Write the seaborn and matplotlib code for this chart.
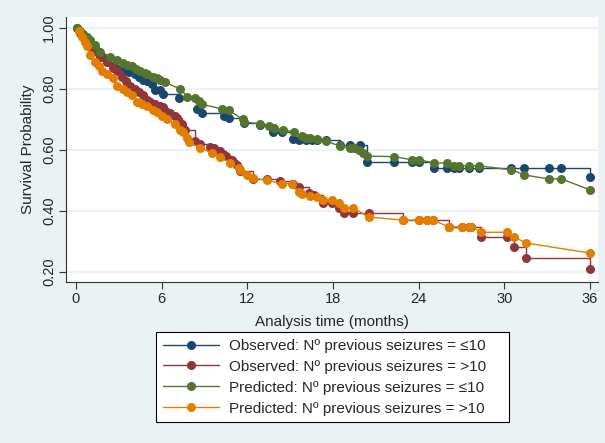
import matplotlib
matplotlib.use("Agg")
import matplotlib.pyplot as plt
import seaborn as sns
import pandas as pd
from matplotlib.lines import Line2D

# ---------------- data ----------------
obs_le10_t = [0.1, 0.3, 0.5, 0.7, 0.9, 1.1, 1.3, 1.6, 1.9, 2.2, 2.6, 2.9, 3.3, 3.7, 4.1, 4.4, 4.7,
              5.0, 5.3, 5.5, 5.9, 6.1, 7.2, 8.5, 8.8, 10.4, 10.7, 11.8, 12.9, 13.8, 14.4, 15.2,
              15.6, 16.1, 16.5, 16.9, 17.5, 18.5, 19.2, 19.9, 20.4, 22.3, 23.5, 24.0, 25.1, 26.0,
              26.5, 26.8, 27.5, 28.2, 30.5, 31.4, 33.1, 34.0, 36.0]
obs_le10_s = [1.0, 0.985, 0.975, 0.965, 0.955, 0.945, 0.935, 0.92, 0.905, 0.89, 0.875, 0.865, 0.86,
              0.855, 0.848, 0.84, 0.83, 0.825, 0.815, 0.797, 0.795, 0.785, 0.77, 0.735, 0.72, 0.71,
              0.705, 0.688, 0.683, 0.66, 0.66, 0.635, 0.633, 0.633, 0.633, 0.633, 0.633, 0.617,
              0.617, 0.617, 0.56, 0.56, 0.56, 0.56, 0.54, 0.54, 0.54, 0.54, 0.54, 0.54, 0.54, 0.54,
              0.54, 0.54, 0.51]

obs_gt10_t = [0.2, 0.5, 0.7, 0.9, 1.2, 1.5, 1.7, 2.2, 2.6, 2.9, 3.2, 3.5, 3.8, 4.1, 4.4, 4.7, 5.0,
              5.2, 5.5, 5.9, 6.1, 6.4, 6.6, 6.9, 7.1, 7.4, 7.5, 7.6, 8.3, 8.7, 9.4, 9.7, 10.1, 10.5,
              10.9, 11.3, 11.5, 12.4, 13.4, 14.3, 15.2, 15.6, 16.3, 16.7, 17.3, 17.9, 18.4, 18.8,
              19.4, 20.5, 22.9, 24.0, 24.6, 25.0, 26.1, 27.0, 27.5, 27.7, 28.4, 30.2, 30.7, 31.5,
              36.0]
obs_gt10_s = [0.99, 0.97, 0.96, 0.94, 0.93, 0.92, 0.905, 0.89, 0.87, 0.86, 0.84, 0.825, 0.81, 0.80,
              0.79, 0.78, 0.765, 0.757, 0.75, 0.745, 0.74, 0.725, 0.72, 0.71, 0.705, 0.685, 0.672,
              0.665, 0.628, 0.62, 0.61, 0.605, 0.595, 0.58, 0.567, 0.55, 0.532, 0.505, 0.505, 0.497,
              0.49, 0.478, 0.46, 0.453, 0.426, 0.426, 0.41, 0.393, 0.393, 0.393, 0.37, 0.37, 0.37,
              0.37, 0.348, 0.348, 0.348, 0.348, 0.315, 0.315, 0.282, 0.246, 0.21]

pred_le10_t = [0.1, 0.3, 0.5, 0.8, 1.0, 1.3, 1.7, 2.4, 2.9, 3.3, 3.6, 3.9, 4.2, 4.5, 4.8, 5.0, 5.4,
               5.7, 5.9, 6.2, 7.3, 7.8, 8.3, 8.6, 8.8, 10.2, 10.7, 11.7, 11.8, 12.9, 13.5, 13.9,
               14.5, 15.3, 15.8, 16.1, 16.4, 16.9, 17.5, 18.5, 19.2, 19.5, 19.8, 20.1, 20.4, 22.3,
               23.5, 24.0, 25.1, 26.0, 26.5, 26.8, 27.5, 28.2, 30.5, 31.4, 33.1, 34.0, 36.0]
pred_le10_s = [1.0, 0.99, 0.98, 0.97, 0.96, 0.945, 0.92, 0.905, 0.895, 0.885, 0.88, 0.875, 0.865,
               0.86, 0.853, 0.85, 0.84, 0.835, 0.828, 0.823, 0.80, 0.775, 0.77, 0.76, 0.75, 0.735,
               0.73, 0.70, 0.692, 0.685, 0.68, 0.673, 0.665, 0.66, 0.645, 0.64, 0.64, 0.635, 0.63,
               0.612, 0.605, 0.605, 0.60, 0.59, 0.58, 0.578, 0.568, 0.568, 0.557, 0.557, 0.548,
               0.548, 0.548, 0.548, 0.535, 0.518, 0.505, 0.505, 0.469]

pred_gt10_t = [0.2, 0.4, 0.6, 0.8, 1.0, 1.3, 1.6, 1.8, 2.2, 2.6, 2.9, 3.3, 3.6, 3.9, 4.3, 4.6, 5.0,
               5.4, 5.7, 6.0, 6.4, 6.9, 7.3, 7.5, 7.8, 7.9, 8.7, 9.5, 10.1, 10.8, 11.4, 11.5, 12.0,
               12.4, 13.4, 14.4, 15.1, 15.6, 15.8, 16.4, 16.9, 17.3, 17.9, 18.4, 18.8, 19.4, 20.5,
               22.9, 24.0, 24.6, 25.0, 26.1, 27.0, 27.5, 27.7, 28.4, 30.2, 30.7, 31.5, 36.0]
pred_gt10_s = [0.99, 0.97, 0.955, 0.94, 0.91, 0.89, 0.875, 0.86, 0.85, 0.835, 0.81, 0.80, 0.79,
               0.78, 0.758, 0.75, 0.745, 0.73, 0.725, 0.71, 0.70, 0.685, 0.665, 0.66, 0.64, 0.626,
               0.607, 0.59, 0.577, 0.557, 0.54, 0.535, 0.518, 0.508, 0.50, 0.49, 0.49, 0.462, 0.455,
               0.449, 0.446, 0.436, 0.436, 0.426, 0.41, 0.41, 0.38, 0.37, 0.37, 0.37, 0.37, 0.348,
               0.348, 0.348, 0.348, 0.33, 0.33, 0.315, 0.295, 0.262]

series_labels = ["Observed: N\u00ba previous seizures = \u226410",
                 "Observed: N\u00ba previous seizures = >10",
                 "Predicted: N\u00ba previous seizures = \u226410",
                 "Predicted: N\u00ba previous seizures = >10"]
x_ticks = [0, 6, 12, 18, 24, 30, 36]
y_ticks = [0.20, 0.40, 0.60, 0.80, 1.00]
y_ticklabels = ["0.20", "0.40", "0.60", "0.80", "1.00"]

# ---------------- style ----------------
sns.set_style("white")
plt.rcParams["font.family"] = ["Liberation Sans", "DejaVu Sans"]

BG = "#eaf2f3"
colors = ["#1a476f", "#90353b", "#55752f", "#e37e00"]

fig = plt.figure(figsize=(6.05, 4.43), dpi=100, facecolor=BG)
ax = fig.add_axes([66 / 605, 1 - 282 / 443, (598 - 66) / 605, (282 - 17) / 443])
ax.set_facecolor("white")

for yt in y_ticks:
    ax.axhline(yt, color=BG, lw=1.5, zorder=0)

series = [
    (obs_le10_t, obs_le10_s, "steps-post"),
    (obs_gt10_t, obs_gt10_s, "steps-post"),
    (pred_le10_t, pred_le10_s, "default"),
    (pred_gt10_t, pred_gt10_s, "default"),
]
for i, ((t, s, ds), lab, c) in enumerate(zip(series, series_labels, colors)):
    df = pd.DataFrame({"t": t, "s": s})
    sns.lineplot(data=df, x="t", y="s", ax=ax, color=c, sort=False, estimator=None,
                 drawstyle=ds, marker="o", markersize=6.5, markeredgewidth=0,
                 linewidth=1.0, legend=False, zorder=3 + i)

ax.set_xlim(-0.70, 36.56)
ax.set_ylim(0.167, 1.036)
ax.set_xticks(x_ticks)
ax.set_yticks(y_ticks)
ax.set_yticklabels(y_ticklabels, rotation=90, va="center")
ax.tick_params(axis="both", direction="out", length=5, width=0.8, color="#333333",
               labelsize=10.5, pad=2, left=True, bottom=True)
for sp in ["top", "right"]:
    ax.spines[sp].set_visible(False)
for sp in ["left", "bottom"]:
    ax.spines[sp].set_color("#333333")
    ax.spines[sp].set_linewidth(0.8)

ax.set_xlabel("Analysis time (months)", fontsize=11, labelpad=7)
ax.set_ylabel("Survival Probability", fontsize=11, labelpad=5)

handles = [Line2D([0], [0], color=c, lw=1.0, marker="o", markersize=6.5, markeredgewidth=0)
           for c in colors]
leg_h = (426 - 332) / 443
leg = fig.legend(handles, series_labels, loc="upper left", mode="expand",
                 bbox_to_anchor=(156 / 605, 1 - 332 / 443 - leg_h, (509 - 156) / 605, leg_h),
                 frameon=True, fancybox=False,
                 edgecolor="black", facecolor="white", fontsize=11, handlelength=3.7,
                 numpoints=1, labelspacing=0.45, borderpad=0.45, borderaxespad=0,
                 handletextpad=0.65)
leg.get_frame().set_linewidth(0.8)
leg.get_frame().set_alpha(1)

fig.savefig("out.png", dpi=100, facecolor=BG)
